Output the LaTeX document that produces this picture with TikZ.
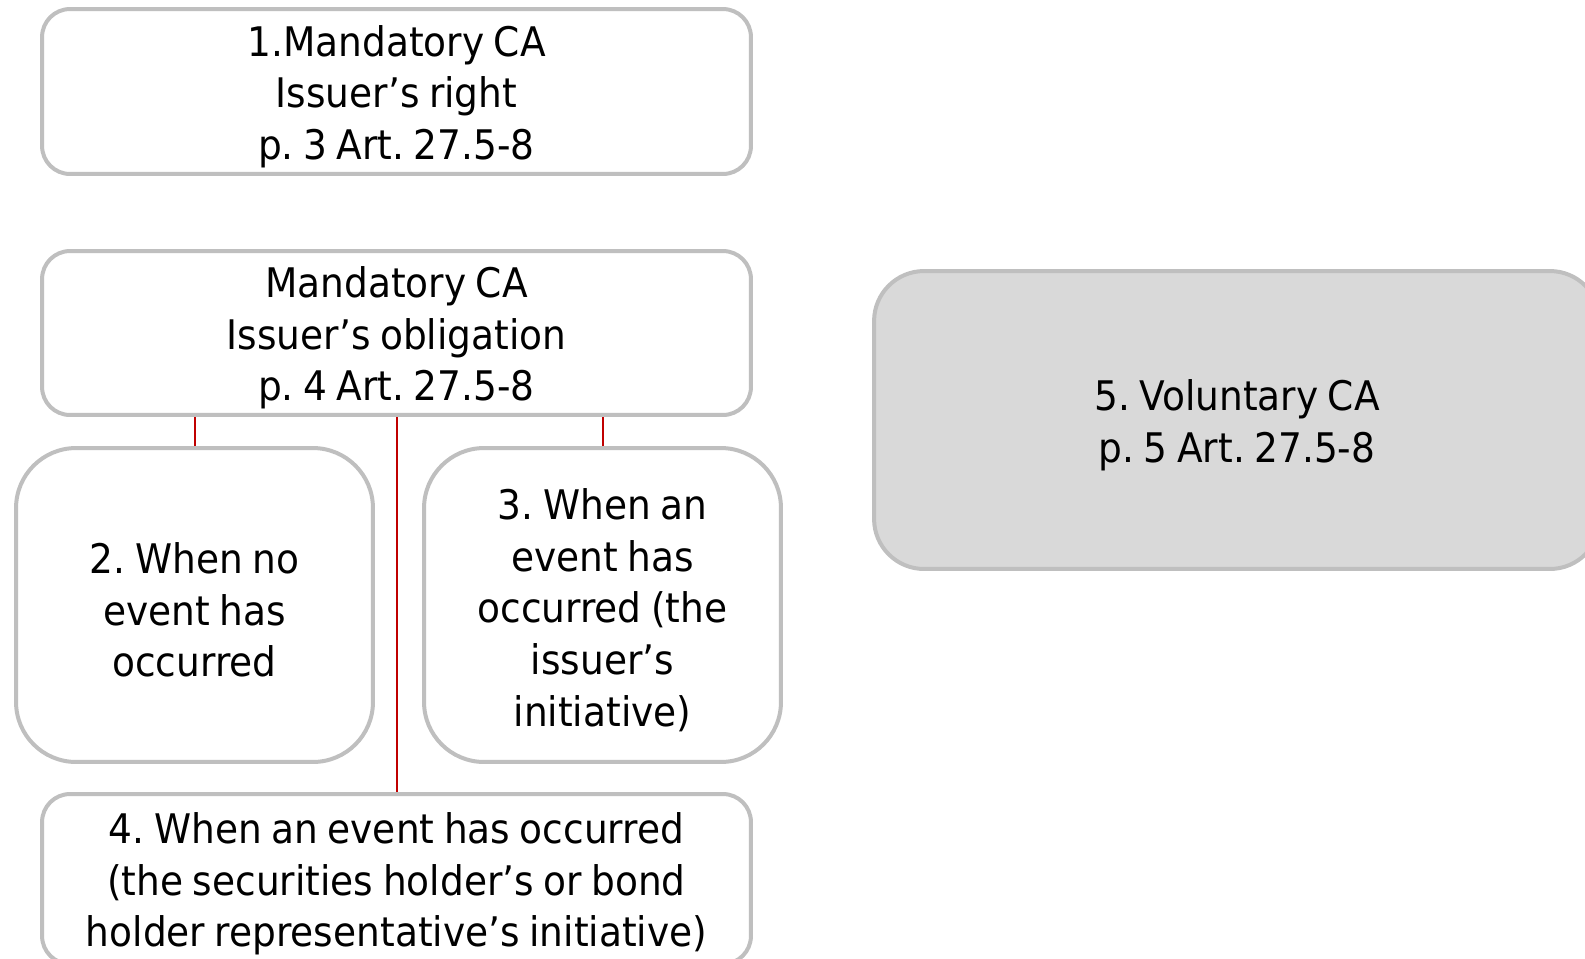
\documentclass[tikz,border=0pt]{standalone}
\usepackage{fontspec}
\setmainfont{DejaVu Sans}[FakeStretch=0.92, WordSpace=0.8]
\frenchspacing
\usetikzlibrary{positioning}
\definecolor{boxgray}{HTML}{BFBFBF}
\definecolor{fillgray}{HTML}{D9D9D9}
\definecolor{linkred}{HTML}{C00000}
\newcommand{\capad}{\rule{0pt}{0.82cm}}

\begin{document}
\begin{tikzpicture}[x=0.02cm,y=-0.02cm,
    every node/.style={font=\fontsize{23.2}{29.4}\selectfont, align=center},
    cabox/.style={draw=boxgray, line width=0.08cm, rounded corners=0.56cm, inner sep=0pt, fill=white},
    link/.style={draw=linkred, line width=0.04cm}]

\useasboundingbox (0,0) rectangle (1585,958);

% Mandatory CA boxes
\node[cabox, minimum width=14.18cm, minimum height=3.3cm] (right) at (396.5,91.5)
    {\capad 1.Mandatory CA\\Issuer’s right\\p. 3 Art. 27.5-8};
\node[cabox, minimum width=14.18cm, minimum height=3.28cm] (oblig) at (396.5,333)
    {\capad Mandatory CA\\Issuer’s obligation\\p. 4 Art. 27.5-8};

% Cases under the obligation
\node[cabox, rounded corners=1.2cm, minimum width=7.14cm, minimum height=6.28cm] (noevent) at (194.5,605)
    {\capad 2. When no\\event has\\occurred};
\node[cabox, rounded corners=1.2cm, minimum width=7.14cm, minimum height=6.28cm] (issuer) at (602.5,605)
    {\capad 3. When an\\event has\\occurred (the\\issuer’s\\initiative)};
\node[cabox, minimum width=14.18cm, minimum height=3.4cm] (holder) at (396.5,879)
    {\capad 4. When an event has occurred\\(the securities holder’s or bond\\holder representative’s initiative)};

% Voluntary CA
\node[cabox, fill=fillgray, rounded corners=1.0cm, minimum width=14.52cm, minimum height=5.96cm] (volunt) at (1237,420)
    {\capad 5. Voluntary CA\\p. 5 Art. 27.5-8};

% links
\draw[link] (noevent.north) -- (noevent.north |- oblig.south);
\draw[link] (issuer.north) -- (issuer.north |- oblig.south);
\draw[link] (oblig.south) -- (holder.north);

\end{tikzpicture}
\end{document}
